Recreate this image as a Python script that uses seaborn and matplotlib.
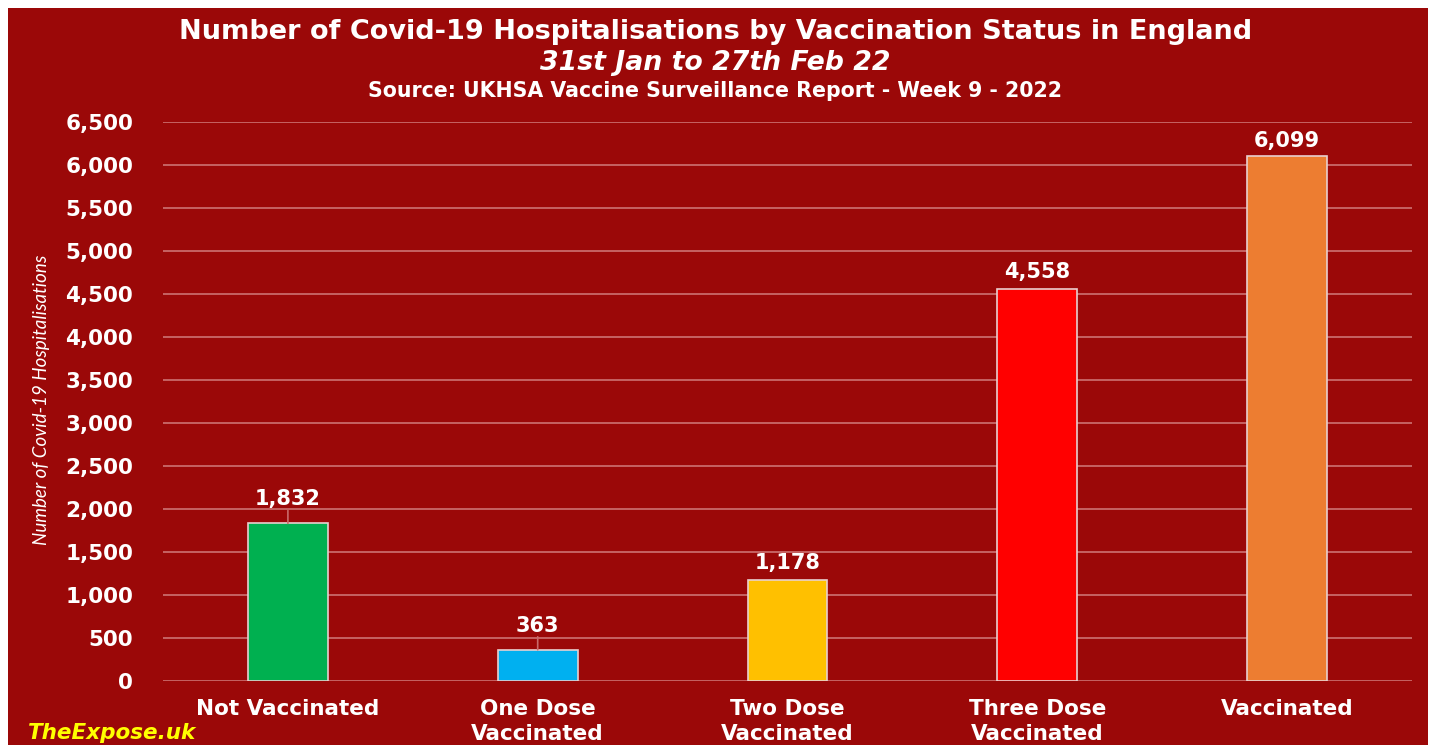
import matplotlib
matplotlib.use("Agg")
import matplotlib.pyplot as plt
import seaborn as sns
import pandas as pd
from matplotlib.patches import Rectangle

categories = ["Not Vaccinated", "One Dose\nVaccinated", "Two Dose\nVaccinated",
              "Three Dose\nVaccinated", "Vaccinated"]
values = [1832, 363, 1178, 4558, 6099]
bar_colors = ["#00B050", "#00B0F0", "#FFC000", "#FF0000", "#ED7D31"]
y_ticks = [0, 500, 1000, 1500, 2000, 2500, 3000, 3500, 4000, 4500, 5000, 5500, 6000, 6500]

title1 = "Number of Covid-19 Hospitalisations by Vaccination Status in England"
title2 = "31st Jan to 27th Feb 22"
title3 = "Source: UKHSA Vaccine Surveillance Report - Week 9 - 2022"
ylabel = "Number of Covid-19 Hospitalisations"
watermark = "TheExpose.uk"

BG = "#9B0808"
GRID = "#C96A6A"

sns.set_theme(style="white")
plt.rcParams["font.family"] = ["DejaVu Sans"]

fig = plt.figure(figsize=(14.31, 7.45), dpi=100, facecolor="white")
fig.patches.append(Rectangle((8 / 1431, 0), (1428 - 8) / 1431, 1 - 8 / 745,
                             transform=fig.transFigure, facecolor=BG,
                             edgecolor="none", zorder=-10))

ax = fig.add_axes([163 / 1431, 1 - 681 / 745, (1412 - 163) / 1431, (681 - 122) / 745])
ax.set_facecolor("none")

df = pd.DataFrame({"cat": categories, "val": values})
sns.barplot(data=df, x="cat", y="val", hue="cat", palette=bar_colors, legend=False,
            saturation=1, width=0.32, ax=ax, edgecolor="#E8D0D0", linewidth=1.2, zorder=3)

ax.set_ylim(0, 6500)
ax.set_xlim(-0.5, 4.5)
ax.set_yticks(y_ticks)
ax.set_yticklabels([f"{v:,}" for v in y_ticks])
ax.yaxis.grid(True, color=GRID, linewidth=1.3, zorder=0)
ax.set_axisbelow(True)
for s in ax.spines.values():
    s.set_visible(False)
ax.tick_params(axis="y", length=0, pad=21.5, labelsize=15.5, labelcolor="white")
ax.tick_params(axis="x", length=0, pad=13, labelsize=15.5, labelcolor="white")
for lab in ax.get_yticklabels() + ax.get_xticklabels():
    lab.set_fontweight("bold")
for lab in ax.get_xticklabels():
    lab.set_linespacing(1.3)
ax.set_xlabel("")
ax.set_ylabel("")

offsets = [24, 24, 17, 17, 15]
for i, (v, off) in enumerate(zip(values, offsets)):
    ax.annotate(f"{v:,}", (i, v), xytext=(0, off), textcoords="offset pixels",
                ha="center", va="center", color="white", fontsize=15,
                fontweight="bold", zorder=5)
    if off > 20:
        ax.annotate("", (i, v), xytext=(0, off - 11), textcoords="offset pixels",
                    arrowprops=dict(arrowstyle="-", color=GRID, lw=1.2,
                                    shrinkA=0, shrinkB=0))

fig.text(0.5, 1 - 32 / 745, title1, ha="center", va="center", color="white",
         fontsize=19.5, fontweight="bold")
fig.text(0.5, 1 - 63 / 745, title2, ha="center", va="center", color="white",
         fontsize=19.3, fontweight="bold", style="italic")
fig.text(0.5, 1 - 91 / 745, title3, ha="center", va="center", color="white",
         fontsize=14.8, fontweight="bold")
fig.text(42 / 1431, 1 - 400 / 745, ylabel, ha="center", va="center", rotation=90,
         color="white", fontsize=13.5, style="italic", family=["Lato", "DejaVu Sans"])
fig.text(28 / 1431, 1 - 733 / 745, watermark, ha="left", va="center", color="#FFFF00",
         fontsize=15.5, fontweight="bold", style="italic")

fig.savefig("out.png", dpi=100, facecolor="white")
